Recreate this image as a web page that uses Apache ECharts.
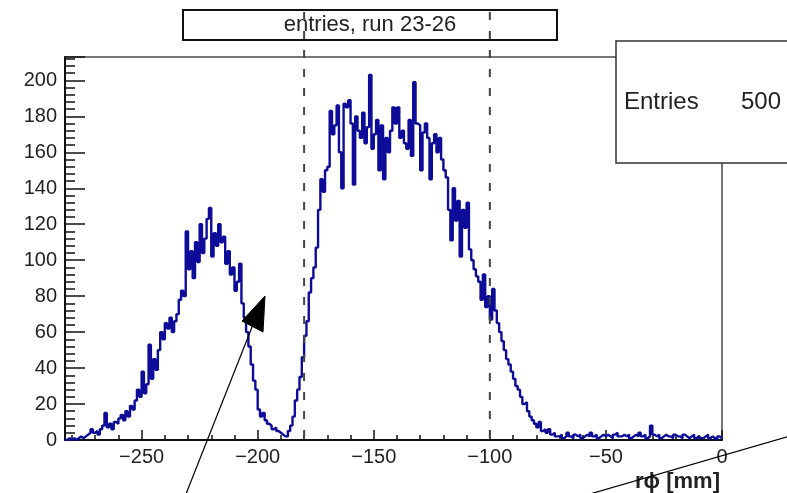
<!DOCTYPE html>
<html>
<head>
<meta charset="utf-8">
<script src="https://cdn.jsdelivr.net/npm/echarts@6/dist/echarts.min.js"></script>
<style>
  html, body { margin: 0; padding: 0; background: #ffffff; }
  #chart { width: 787px; height: 493px; }
</style>
</head>
<body>
<div id="chart"></div>
<script>
// r-phi histogram, 1 mm bins starting at binStart
const binStart = -283;
const binWidth = 1;
const counts = [
  // -283 .. -274
  0, 1, 0, 1, 0, 1, 2, 1, 2, 3,
  // -273 .. -264
  4, 6, 4, 5, 3, 6, 8, 15, 7, 9,
  // -263 .. -254
  6, 10, 9, 12, 14, 11, 16, 13, 19, 17,
  // -253 .. -244
  22, 28, 24, 38, 26, 31, 53, 34, 45, 39,
  // -243 .. -234
  50, 60, 56, 65, 62, 68, 60, 66, 70, 78,
  // -233 .. -224
  83, 80, 116, 95, 105, 90, 110, 99, 120, 104,
  // -223 .. -214
  112, 123, 129, 102, 115, 108, 120, 110, 113, 98,
  // -213 .. -204
  105, 92, 96, 83, 88, 98, 76, 68, 60, 52,
  // -203 .. -194
  42, 33, 28, 17, 13, 15, 11, 9, 8, 6,
  // -193 .. -184
  7, 5, 4, 3, 2, 2, 5, 8, 13, 22,
  // -183 .. -174
  28, 35, 46, 58, 66, 82, 90, 96, 107, 128,
  // -173 .. -164
  145, 138, 150, 152, 183, 170, 175, 186, 160, 140,
  // -163 .. -154
  187, 185, 189, 176, 142, 180, 172, 168, 182, 165,
  // -153 .. -144
  174, 203, 162, 170, 178, 150, 175, 145, 168, 160,
  // -143 .. -134
  172, 185, 176, 185, 168, 172, 165, 162, 178, 158,
  // -133 .. -124
  199, 176, 175, 150, 171, 176, 168, 145, 165, 170,
  // -123 .. -114
  160, 168, 156, 150, 146, 128, 111, 140, 122, 133,
  // -113 .. -104
  102, 128, 118, 132, 106, 100, 95, 91, 88, 78,
  // -103 .. -94
  92, 74, 80, 67, 84, 72, 65, 60, 55, 50,
  // -93 .. -84
  45, 42, 38, 34, 30, 28, 24, 20, 21, 16,
  // -83 .. -74
  13, 11, 9, 7, 10, 5, 6, 4, 6, 3,
  // -73 .. -72
  4, 2,
  // -71 .. -1
  2, 3, 1, 2, 4, 2, 1, 3, 2, 3,
  1, 2, 3, 2, 4, 2, 3, 1, 2, 3,
  2, 3, 2, 1, 3, 4, 2, 2, 3, 2,
  3, 1, 2, 3, 2, 4, 2, 3, 1, 2,
  8, 3, 2, 3, 1, 2, 3, 2, 2, 1,
  3, 2, 2, 1, 3, 2, 1, 2, 3, 1,
  2, 1, 1, 2, 3, 1, 2, 1, 0, 2,
  1
];
const cutLines = [-180, -100];
const titleText = 'entries, run 23-26';
const statsLabel = 'Entries';
const statsValue = '500';
const xTitle = 'r\u03d5 [mm]';
const xRange = [-283, 0];
const yRange = [0, 213];

// histogram outline: one point per bin lower edge, closing at the last upper edge
const stepData = counts.map((c, i) => [binStart + i * binWidth, c]);
stepData.push([binStart + counts.length * binWidth, counts[counts.length - 1]]);

const FONT = '"Liberation Sans", Arial, Helvetica, sans-serif';
const chart = echarts.init(document.getElementById('chart'), null, { renderer: 'canvas' });

const option = {
  backgroundColor: '#ffffff',
  animation: false,
  grid: {
    left: 65, right: 65, top: 57, bottom: 53,
    show: true, borderColor: '#4a4a4a', borderWidth: 1.5, backgroundColor: 'transparent'
  },
  xAxis: {
    type: 'value',
    min: xRange[0], max: xRange[1],
    splitNumber: 5,
    axisLine: { show: true, onZero: false, lineStyle: { color: '#111', width: 2 } },
    axisTick: { show: true, inside: true, length: 10, lineStyle: { color: '#111', width: 1.5 } },
    minorTick: { show: true, splitNumber: 5, length: 5, lineStyle: { color: '#111', width: 1.5 } },
    splitLine: { show: false },
    axisLabel: {
      show: true, showMinLabel: false, margin: 7,
      color: '#222', fontFamily: FONT, fontSize: 20,
      formatter: v => String(v).replace('-', '\u2212')
    }
  },
  yAxis: {
    type: 'value',
    min: yRange[0], max: yRange[1],
    interval: 20,
    axisLine: { show: true, onZero: false, lineStyle: { color: '#111', width: 2 } },
    axisTick: { show: true, inside: true, length: 20, lineStyle: { color: '#111', width: 1.5 } },
    minorTick: { show: true, splitNumber: 5, length: 10, lineStyle: { color: '#111', width: 1.5 } },
    splitLine: { show: false },
    axisLabel: {
      show: true, showMaxLabel: false, margin: 8,
      color: '#222', fontFamily: FONT, fontSize: 20
    }
  },
  series: [{
    type: 'line',
    step: 'end',
    data: stepData,
    showSymbol: false,
    clip: true,
    lineStyle: { color: '#0c0c99', width: 2.4 },
    z: 3
  }]
};
chart.setOption(option);

// overlay: cut lines, title box, stats box, axis title, annotation arrow and line
const plotBottom = chart.convertToPixel({ yAxisIndex: 0 }, 0);
const graphics = [];

// title box
graphics.push({
  type: 'rect', z: 10,
  shape: { x: 183, y: 10, width: 374, height: 30 },
  style: { fill: '#ffffff', stroke: '#111', lineWidth: 2 }
});
graphics.push({
  type: 'text', z: 11,
  style: {
    x: 370, y: 25, text: titleText, align: 'center', verticalAlign: 'middle',
    font: '22px ' + FONT, fill: '#222'
  }
});

// dashed cut lines across the frame and title box
cutLines.forEach(v => {
  const px = chart.convertToPixel({ xAxisIndex: 0 }, v);
  graphics.push({
    type: 'line', z: 12,
    shape: { x1: px, y1: 12, x2: px, y2: plotBottom },
    style: { stroke: '#444', lineWidth: 2, lineDash: [8, 11] }
  });
});

// stats box
graphics.push({
  type: 'rect', z: 13,
  shape: { x: 616, y: 41, width: 190, height: 122 },
  style: { fill: '#ffffff', stroke: '#333', lineWidth: 1.5 }
});
graphics.push({
  type: 'text', z: 14,
  style: { x: 624, y: 102, text: statsLabel, align: 'left', verticalAlign: 'middle', font: '24px ' + FONT, fill: '#222' }
});
graphics.push({
  type: 'text', z: 14,
  style: { x: 781, y: 102, text: statsValue, align: 'right', verticalAlign: 'middle', font: '24px ' + FONT, fill: '#222' }
});

// x-axis title
graphics.push({
  type: 'text', z: 14,
  style: { x: 720, y: 482, text: xTitle, align: 'right', verticalAlign: 'middle', font: 'bold 22px ' + FONT, fill: '#222' }
});

// annotation arrow
graphics.push({
  type: 'line', z: 15,
  shape: { x1: 186, y1: 494, x2: 254, y2: 322 },
  style: { stroke: '#000', lineWidth: 1.2 }
});
graphics.push({
  type: 'polygon', z: 15,
  shape: { points: [[265, 296], [242, 321], [263, 332]] },
  style: { fill: '#000', stroke: '#000', lineWidth: 1 }
});

// annotation line at lower right
graphics.push({
  type: 'line', z: 15,
  shape: { x1: 590, y1: 494, x2: 790, y2: 436 },
  style: { stroke: '#000', lineWidth: 1.2 }
});

chart.setOption({ graphic: graphics });
</script>
</body>
</html>
